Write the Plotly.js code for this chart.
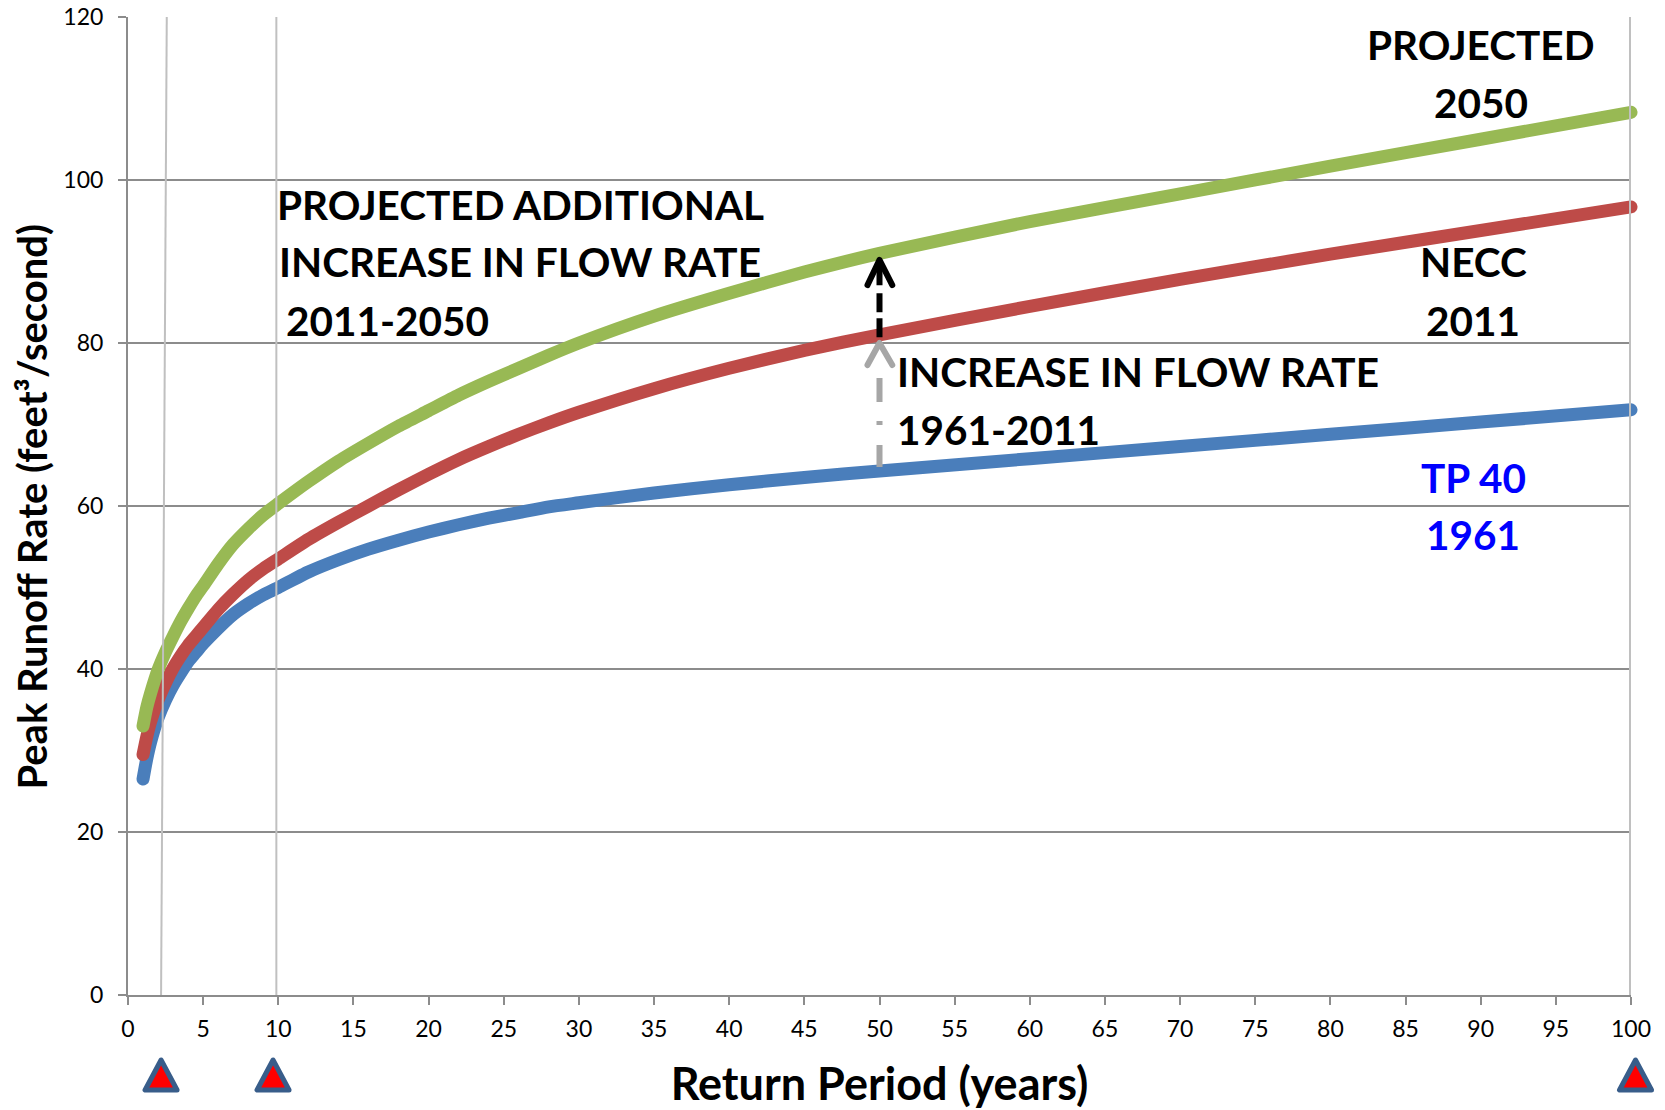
<!DOCTYPE html>
<html>
<head>
<meta charset="utf-8">
<script src="https://cdn.plot.ly/plotly-3.0.1.min.js"></script>
<style>
html,body{margin:0;padding:0;background:#fff}
#chart{width:1665px;height:1110px}
/* Rounded ends on everything except the two dashed arrow shafts */
.scatterlayer .trace:not(:nth-child(4)):not(:nth-child(6)) .js-line{stroke-linecap:round;stroke-linejoin:round}
.shapelayer path{stroke-linejoin:round}
</style>
</head>
<body>
<div id="chart"></div>
<script>
// Return periods (years) at which the runoff curves are sampled
const returnPeriod = [1, 1.25, 1.5, 2, 2.5, 3, 3.5, 4, 4.5, 5, 6, 7, 8, 9, 10, 12, 14, 16, 18, 20, 22, 24, 26, 28, 30, 35, 40, 45, 50, 60, 70, 80, 90, 100];

// Peak runoff rate (feet^3/second) for each rainfall data set
const tp40_1961 = [26.5, 29, 31, 34, 36.2, 38, 39.5, 40.9, 42, 43.1, 45, 46.7, 48, 49.1, 50, 51.9, 53.4, 54.7, 55.8, 56.8, 57.7, 58.5, 59.2, 59.9, 60.4, 61.6, 62.6, 63.5, 64.3, 65.8, 67.3, 68.8, 70.3, 71.8];
const necc_2011 = [29.5, 31.7, 33.5, 36.2, 38.3, 40.1, 41.6, 42.9, 44, 45.1, 47.3, 49.2, 50.9, 52.3, 53.5, 55.9, 58, 60, 62, 63.9, 65.7, 67.3, 68.8, 70.2, 71.5, 74.4, 76.9, 79.1, 81, 84.5, 87.8, 90.9, 93.8, 96.7];
const proj_2050 = [33, 35.3, 37, 39.9, 42.1, 44, 45.8, 47.4, 48.9, 50.2, 52.9, 55.3, 57.2, 58.9, 60.3, 63, 65.5, 67.7, 69.8, 71.7, 73.6, 75.3, 76.9, 78.5, 80, 83.3, 86.1, 88.7, 91, 94.9, 98.3, 101.7, 105, 108.3];

const seriesColors = ['#4a7ebb', '#be4b48', '#98b954'];

// Text labels placed in axis units
const labelText = ['PROJECTED', '2050', 'PROJECTED ADDITIONAL', 'INCREASE IN FLOW RATE', '2011-2050',
                   'NECC', '2011', 'INCREASE IN FLOW RATE', '1961-2011', 'TP 40', '1961'];
const labelX    = [90, 90, 9.8, 9.9, 10.4, 89.5, 89.5, 51.05, 51.05, 89.5, 89.5];
const labelY    = [116.6, 109.5, 97, 89.95, 82.8, 89.95, 82.8, 76.5, 69.4, 63.5, 56.5];
const labelAnch = ['center', 'center', 'left', 'left', 'left', 'center', 'center', 'left', 'left', 'center', 'center'];
const labelCol  = ['#000', '#000', '#000', '#000', '#000', '#000', '#000', '#000', '#000', '#0000ff', '#0000ff'];

const yTitle = 'Peak Runoff Rate (feet³/second)';
const xTitle = 'Return Period (years)';

// Return periods flagged below the axis
const flagPeriods = [2.2, 9.65, 100.3];

const FONT = 'Lato, Carlito, sans-serif';
const GRID = '#8c8c8c';

function curve(y, color) {
  return {x: returnPeriod, y: y, mode: 'lines', cliponaxis: false, hoverinfo: 'skip',
          line: {color: color, width: 13, shape: 'spline', smoothing: 0.6}};
}
function stroke(x, y, color, dash) {
  return {x: x, y: y, mode: 'lines', hoverinfo: 'skip', cliponaxis: false,
          line: {color: color, width: 6, dash: dash || 'solid'}};
}

const traces = [
  curve(tp40_1961, seriesColors[0]),
  curve(necc_2011, seriesColors[1]),
  curve(proj_2050, seriesColors[2]),
  // Change between 1961 and 2011 at the 50-year return period
  stroke([50, 50], [64.8, 79.6], '#a6a6a6', '22px,20px,4px,19px,24px,300px'),
  stroke([49.2, 50, 50.85], [77.3, 80, 77.3], '#a6a6a6'),
  // Projected further change to 2050
  stroke([50, 50], [80.7, 89.8], '#000000', '19px,6px,19px,8px,30px,300px'),
  stroke([49.2, 50, 50.85], [87.1, 90.2, 87.1], '#000000')
];

const shapes = [
  {type: 'line', xref: 'x', yref: 'y', x0: 2.2, y0: 0, x1: 2.58, y1: 120.3, line: {color: '#c0c0c0', width: 2}},
  {type: 'line', xref: 'x', yref: 'y', x0: 9.87, y0: 0, x1: 9.87, y1: 120.4, line: {color: '#c0c0c0', width: 2}},
  {type: 'line', xref: 'x', yref: 'y', x0: 99.95, y0: 0, x1: 99.95, y1: 120, line: {color: '#c0c0c0', width: 2.5}}
].concat(flagPeriods.map(p => ({
  type: 'path', xref: 'paper', yref: 'paper', layer: 'above',
  xsizemode: 'pixel', ysizemode: 'pixel', xanchor: p / 100, yanchor: -0.0818,
  path: 'M -16 -15 L 16 -15 L 0 15 Z',
  fillcolor: '#ff0000', line: {color: '#385d8a', width: 5}
})));

const annotations = labelText.map((t, i) => ({
  text: t, x: labelX[i], y: labelY[i], xref: 'x', yref: 'y', xanchor: labelAnch[i], yanchor: 'middle',
  showarrow: false, font: {family: FONT, size: 40.5, color: labelCol[i], weight: 700}
}));
// Vertical axis caption sits closer to the tick labels than the automatic title slot allows
annotations.push({
  text: yTitle, xref: 'paper', yref: 'paper', x: -0.0638, y: 0.4995, xanchor: 'center', yanchor: 'middle',
  textangle: -90, showarrow: false, font: {family: FONT, size: 40, color: '#000', weight: 700}
});

const axisBase = {
  showgrid: true, gridcolor: GRID, gridwidth: 2, zeroline: false,
  showline: true, linecolor: GRID, linewidth: 2,
  ticks: 'outside', ticklen: 8, tickwidth: 2, tickcolor: GRID,
  tickfont: {family: FONT, size: 23, color: '#000'}
};

const layout = {
  width: 1665, height: 1110, showlegend: false,
  paper_bgcolor: '#fff', plot_bgcolor: '#fff',
  margin: {l: 128, r: 34, t: 17, b: 115},
  xaxis: Object.assign({}, axisBase, {
    range: [0, 100], tick0: 0, dtick: 5, showgrid: false, ticklabelstandoff: 4,
    title: {text: xTitle, standoff: 28, font: {family: FONT, size: 45, color: '#000', weight: 700}}
  }),
  yaxis: Object.assign({}, axisBase, {
    range: [0, 120], tick0: 0, dtick: 20, ticklabelstandoff: 10
  }),
  shapes: shapes,
  annotations: annotations
};

Plotly.newPlot('chart', traces, layout, {displayModeBar: false, staticPlot: true}).then(gd => {
  // Let the thick curve ends run past the plot edge
  gd.querySelectorAll('.cartesianlayer, .cartesianlayer [clip-path]').forEach(el => el.removeAttribute('clip-path'));
});
</script>
</body>
</html>
